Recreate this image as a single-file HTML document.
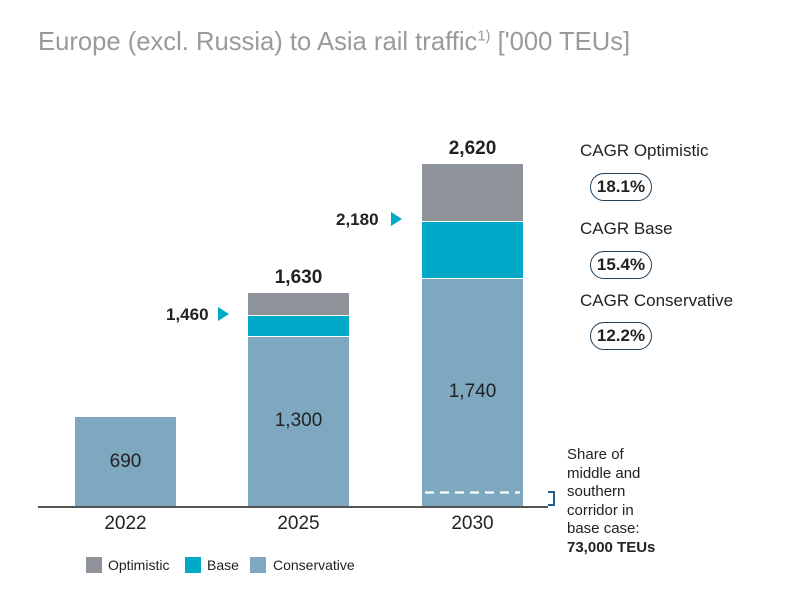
<!DOCTYPE html>
<html><head><meta charset="utf-8"><style>
body{margin:0;width:802px;height:596px;background:#fff;position:relative;overflow:hidden;font-family:"Liberation Sans",sans-serif;color:#222}
.a{position:absolute;white-space:nowrap}
.b{position:absolute}
.pill{position:absolute;border:1.8px solid #1f3f5a;border-radius:16px;width:62px;height:28px;line-height:26px;text-align:center;font-weight:bold;font-size:17px;box-sizing:border-box}
</style></head><body>
<div class="a" style="left:38px;top:26px;font-size:26px;color:#9a9a9a;transform:scaleX(0.985);transform-origin:left">Europe (excl. Russia) to Asia rail traffic<sup style="font-size:15px">1)</sup> ['000 TEUs]</div>

<div class="b" style="left:75px;top:417px;width:101px;height:90px;background:#7ea7c0"></div>
<div class="a" style="left:75px;width:101px;text-align:center;top:451px;font-size:19px">690</div>

<div class="b" style="left:248px;top:293px;width:101px;height:22px;background:#8e9399"></div>
<div class="b" style="left:248px;top:316px;width:101px;height:20px;background:#00a9c7"></div>
<div class="b" style="left:248px;top:337px;width:101px;height:170px;background:#7ea7c0"></div>
<div class="a" style="left:248px;width:101px;text-align:center;top:410px;font-size:19px">1,300</div>
<div class="a" style="left:248px;width:101px;text-align:center;top:267px;font-size:19px;font-weight:bold">1,630</div>
<div class="a" style="left:166px;top:305px;font-size:17px;font-weight:bold">1,460</div>
<svg class="b" style="left:218px;top:307px" width="12" height="14"><polygon points="0,0 11,7 0,14" fill="#00a9c7"/></svg>

<div class="b" style="left:422px;top:164px;width:101px;height:57px;background:#8e9399"></div>
<div class="b" style="left:422px;top:222px;width:101px;height:56px;background:#00a9c7"></div>
<div class="b" style="left:422px;top:279px;width:101px;height:228px;background:#7ea7c0"></div>
<svg class="b" style="left:425px;top:491px" width="95" height="3"><line x1="0" y1="1.5" x2="95" y2="1.5" stroke="#fff" stroke-width="2.2" stroke-dasharray="9,6"/></svg>
<div class="a" style="left:422px;width:101px;text-align:center;top:381px;font-size:19px">1,740</div>
<div class="a" style="left:422px;width:101px;text-align:center;top:138px;font-size:19px;font-weight:bold">2,620</div>
<div class="a" style="left:336px;top:210px;font-size:17px;font-weight:bold">2,180</div>
<svg class="b" style="left:391px;top:212px" width="12" height="14"><polygon points="0,0 11,7 0,14" fill="#00a9c7"/></svg>

<div class="b" style="left:38px;top:506px;width:510px;height:1.5px;background:#555"></div>
<div class="b" style="left:548px;top:491px;width:7px;height:15px;border:2.5px solid #1f5f8a;border-left:none;box-sizing:border-box"></div>

<div class="a" style="left:75px;width:101px;text-align:center;top:513px;font-size:19px">2022</div>
<div class="a" style="left:248px;width:101px;text-align:center;top:513px;font-size:19px">2025</div>
<div class="a" style="left:422px;width:101px;text-align:center;top:513px;font-size:19px">2030</div>

<div class="a" style="left:567px;top:446px;font-size:15px;line-height:18.5px">Share of<br>middle and<br>southern<br>corridor in<br>base case:<br><b>73,000 TEUs</b></div>

<div class="a" style="left:580px;top:141px;font-size:17px">CAGR Optimistic</div>
<div class="pill" style="left:590px;top:173px">18.1%</div>
<div class="a" style="left:580px;top:219px;font-size:17px">CAGR Base</div>
<div class="pill" style="left:590px;top:251px">15.4%</div>
<div class="a" style="left:580px;top:291px;font-size:17px">CAGR Conservative</div>
<div class="pill" style="left:590px;top:322px">12.2%</div>

<div class="b" style="left:86px;top:557px;width:16px;height:16px;background:#8e9399"></div>
<div class="a" style="left:108px;top:557px;font-size:14px">Optimistic</div>
<div class="b" style="left:185px;top:557px;width:16px;height:16px;background:#00a9c7"></div>
<div class="a" style="left:207px;top:557px;font-size:14px">Base</div>
<div class="b" style="left:250px;top:557px;width:16px;height:16px;background:#7ea7c0"></div>
<div class="a" style="left:273px;top:557px;font-size:14px">Conservative</div>
</body></html>
